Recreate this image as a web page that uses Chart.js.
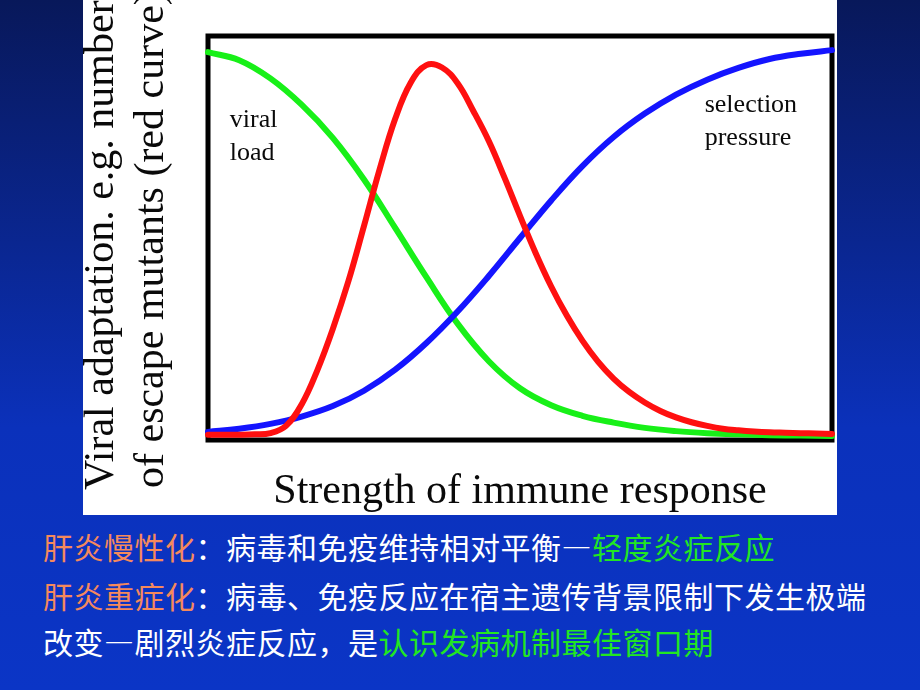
<!DOCTYPE html>
<html lang="zh-CN">
<head>
<meta charset="utf-8">
<script src="https://cdn.jsdelivr.net/npm/chart.js@4.4.0/dist/chart.umd.min.js"></script>
<style>
  html, body { margin: 0; padding: 0; }
  body {
    width: 920px; height: 690px; overflow: hidden; position: relative;
    background: linear-gradient(to bottom, #08185a 0%, #0a2690 35%, #0b31bb 62%, #0b35c6 100%);
    font-family: "Noto Sans CJK SC", sans-serif;
  }
  #panel { position: absolute; left: 83px; top: 0; width: 754px; height: 515px; background: #fff; }
  .line { position: absolute; left: 43px; font-size: 30px; line-height: 30px; color: #fff; letter-spacing: 0.5px; white-space: nowrap; }
  .o { color: #f5895c; }
  .g { color: #22e622; }
</style>
</head>
<body>
<div id="panel"><canvas id="myChart" width="754" height="515"></canvas></div>
<div class="line" style="top:531px"><span class="o">肝炎慢性化</span>：病毒和免疫维持相对平衡—<span class="g">轻度炎症反应</span></div>
<div class="line" style="top:580px"><span class="o">肝炎重症化</span>：病毒、免疫反应在宿主遗传背景限制下发生极端</div>
<div class="line" style="top:626px">改变—剧烈炎症反应，是<span class="g">认识发病机制最佳窗口期</span></div>
<script>
// values, x = strength (0-100), y = level (0-100)
const redX = [0, 2.5, 5, 7.5, 10, 12.5, 15, 17.5, 20, 22.5, 25, 27.5, 30, 32.5, 35, 37.5, 40, 42.5, 45, 47.5,
  50, 52.5, 55, 57.5, 60, 62.5, 65, 67.5, 70, 72.5, 75, 77.5, 80, 82.5, 85, 87.5, 90, 92.5, 95, 97.5, 100];
const redY = [1.3, 1.3, 1.3, 1.4, 1.7, 3.5, 8.8, 17.2, 27.5, 39.3, 53.0, 67.0, 79.5, 88.5, 92.8, 92.2, 88.3, 81.5, 74.0, 65.0,
  55.5, 46.3, 38.0, 30.8, 24.6, 19.4, 15.2, 11.9, 9.3, 7.2, 5.6, 4.4, 3.5, 2.8, 2.4, 2.1, 1.9, 1.8, 1.7, 1.6, 1.5];

const blueX = [0, 5, 10, 15, 20, 25, 30, 35, 40, 45, 50, 55, 60, 65, 70, 75, 80, 85, 90, 95, 100];
const blueY = [2.0, 2.8, 4.0, 5.8, 8.4, 12.2, 17.4, 24.0, 31.8, 40.6, 50.0, 59.3, 67.8, 75.0, 80.8, 85.5, 89.2, 92.1, 94.3, 95.6, 96.5];

const greenX = [0, 5, 10, 15, 20, 25, 30, 35, 40, 45, 50, 55, 60, 65, 70, 75, 80, 85, 90, 95, 100];
const greenY = [96, 94.0, 89.5, 83.0, 74.8, 64.5, 52.5, 40.3, 28.8, 19.5, 12.8, 8.6, 6.0, 4.3, 3.0, 2.2, 1.7, 1.4, 1.2, 1.1, 1.0];

const xTitle = 'Strength of immune response';
const yTitleLines = ['Viral adaptation. e.g. number', 'of escape mutants (red curve)'];
const curveLabels = [['viral', 'load'], ['selection', 'pressure']];
const labelSpots = [[3.5, 77.5], [79.6, 81.2]];

const serif = '"Liberation Serif", "Times New Roman", serif';

const toPoints = (xs, ys) => xs.map((x, i) => ({ x: x, y: ys[i] }));

// black frame round the plot area, under the curves
const framePlugin = {
  id: 'frame',
  beforeDatasetsDraw(chart) {
    const { ctx, chartArea: a } = chart;
    ctx.save();
    ctx.strokeStyle = '#000';
    ctx.lineWidth = 5;
    ctx.strokeRect(a.left, a.top, a.right - a.left, a.bottom - a.top);
    ctx.restore();
  }
};

// rotated two-line y title and the curve names
const textPlugin = {
  id: 'texts',
  afterDraw(chart) {
    const { ctx, scales } = chart;
    ctx.save();
    ctx.fillStyle = '#0a0a0a';
    ctx.font = '42px ' + serif;
    ctx.textAlign = 'left';
    ctx.textBaseline = 'alphabetic';
    const yStart = [[30, 490], [80, 488]];
    yTitleLines.forEach((t, i) => {
      ctx.save();
      ctx.translate(yStart[i][0], yStart[i][1]);
      ctx.rotate(-Math.PI / 2);
      ctx.fillText(t, 0, 0);
      ctx.restore();
    });
    ctx.font = '26px ' + serif;
    curveLabels.forEach((lines, i) => {
      const px = scales.x.getPixelForValue(labelSpots[i][0]);
      const py = scales.y.getPixelForValue(labelSpots[i][1]);
      lines.forEach((l, j) => ctx.fillText(l, px, py + j * 33));
    });
    ctx.restore();
  }
};

const ctx = document.getElementById('myChart').getContext('2d');
const myChart = new Chart(ctx, {
  type: 'line',
  data: {
    datasets: [{
      data: toPoints(redX, redY),
      borderColor: '#ff1010',
    }, {
      data: toPoints(blueX, blueY),
      borderColor: '#1414ff',
    }, {
      data: toPoints(greenX, greenY),
      borderColor: '#18f018',
    }]
  },
  options: {
    responsive: false,
    animation: false,
    events: [],
    layout: { padding: { left: 125, right: 5, top: 36, bottom: 1 } },
    elements: {
      point: { radius: 0 },
      line: { borderWidth: 6, tension: 0.4, fill: false, borderCapStyle: 'round' }
    },
    datasets: { line: { clip: 6 } },
    scales: {
      x: {
        type: 'linear', min: 0, max: 100,
        grid: { display: false, drawTicks: false },
        border: { display: false },
        ticks: { display: false },
        title: {
          display: true,
          text: xTitle,
          color: '#0a0a0a',
          font: { family: serif, size: 42, lineHeight: 1.19 },
          padding: { top: 27, bottom: -3 }
        }
      },
      y: {
        display: false,
        min: 0, max: 100
      }
    },
    plugins: {
      legend: { display: false },
      tooltip: { enabled: false }
    }
  },
  plugins: [framePlugin, textPlugin]
});
</script>
</body>
</html>
